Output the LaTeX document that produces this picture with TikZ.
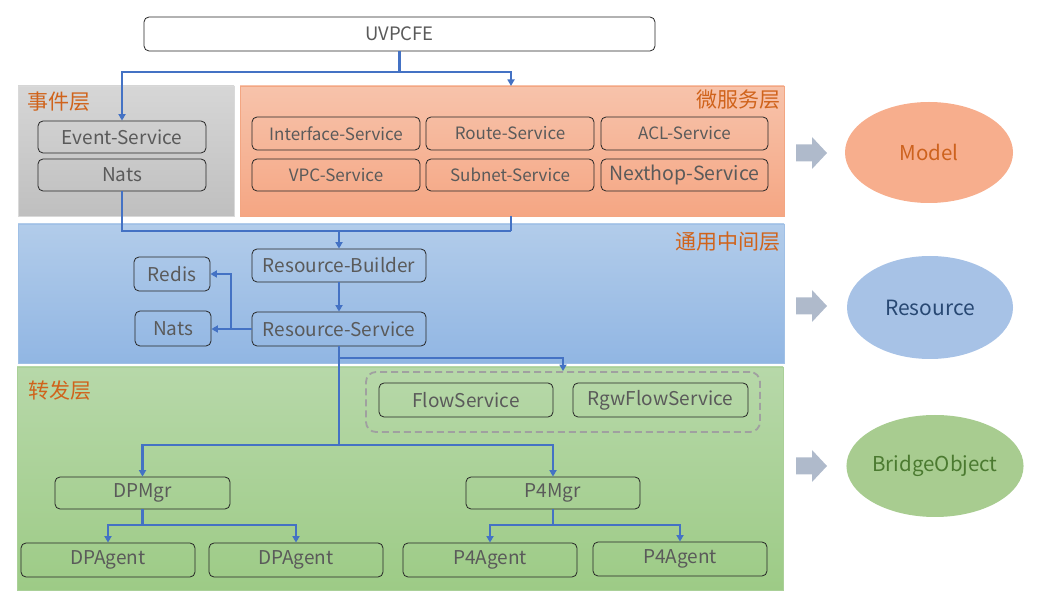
\documentclass[tikz,border=0pt]{standalone}
\usepackage{fontspec}
\setmainfont{Noto Sans CJK SC}
\usetikzlibrary{arrows.meta,shapes.geometric}
\definecolor{lineblue}{HTML}{4472C4}
\definecolor{boxtext}{HTML}{5A5A5A}
\definecolor{labelor}{HTML}{D0631B}
\definecolor{blockgray}{HTML}{AFBACB}
\definecolor{orD}{HTML}{F3A682}
\definecolor{orT}{HTML}{F7C3AB}
\definecolor{orB}{HTML}{F5A683}
\definecolor{blD}{HTML}{A0C0E6}
\definecolor{blT}{HTML}{B2CCEA}
\definecolor{blB}{HTML}{91B6E3}
\definecolor{grD}{HTML}{AAD098}
\definecolor{grT}{HTML}{B7D8A9}
\definecolor{grB}{HTML}{9DCB86}
\definecolor{grpdash}{HTML}{A0A0A0}
\definecolor{modelF}{HTML}{F7AE8D}
\definecolor{modelT}{HTML}{CD621E}
\definecolor{resF}{HTML}{A7C2E6}
\definecolor{resT}{HTML}{284873}
\definecolor{boF}{HTML}{A8CC90}
\definecolor{boT}{HTML}{4B7A30}
\begin{document}
\begin{tikzpicture}[x=1pt,y=-1pt,
  panel/.style={draw=#1, line width=0.6pt, inner sep=0, outer sep=0},
  box/.style={draw=black!85, line width=0.8pt, rounded corners=5pt, text=boxtext, inner sep=0, minimum width=174, minimum height=34, font=\fontsize{19}{21}\selectfont},
  sbox/.style={box, font=\fontsize{17}{19}\selectfont},
  lay/.style={text=labelor, inner sep=0, font=\fontsize{21}{23}\selectfont},
  line/.style={draw=lineblue, line width=2.1pt},
  arr/.style={line, -{Triangle[width=7pt,length=6.5pt]}},
  ell/.style={ellipse, inner sep=0},
]
\useasboundingbox (0,0) rectangle (1037,601);

% panels
\node[panel=black!15, top color=black!16, bottom color=black!25, minimum width=216, minimum height=130] (evtL) at (126,151) {};
\node[panel=orD, top color=orT, bottom color=orB, minimum width=544, minimum height=130] (msL) at (512,151) {};
\node[panel=blD, top color=blT, bottom color=blB, minimum width=766, minimum height=139] (midL) at (401,293.5) {};
\node[panel=grD, top color=grT, bottom color=grB, minimum width=766, minimum height=223] (fwdL) at (400,478.5) {};

% layer labels
\node[lay, anchor=west] (l1) at (27,102) {事件层};
\node[lay, anchor=east] (l2) at (781,100) {微服务层};
\node[lay, anchor=east] (l3) at (781,242) {通用中间层};
\node[lay, anchor=west] (l4) at (28,391) {转发层};

% top
\node[box, fill=white, minimum width=511, minimum height=34, font=\fontsize{18.5}{20}\selectfont] (uv) at (399.5,34) {UVPCFE};

% event layer
\node[box, minimum width=168, minimum height=32] (evt) at (122,137) {Event-Service};
\node[box, minimum width=168, minimum height=32] (nats1) at (122,175) {Nats};

% micro services
\node[sbox, minimum width=168, minimum height=33] (ifs) at (336,133.5) {Interface-Service};
\node[sbox, minimum width=168, minimum height=33] (rts) at (510,133.5) {Route-Service};
\node[sbox, minimum width=167, minimum height=33] (acl) at (684.5,133.5) {ACL-Service};
\node[sbox, minimum width=168, minimum height=32] (vpc) at (336,175) {VPC-Service};
\node[sbox, minimum width=168, minimum height=32] (sub) at (510,175) {Subnet-Service};
\node[box, minimum width=167, minimum height=32, font=\fontsize{19.5}{21}\selectfont] (nh) at (684.5,175) {Nexthop-Service};

% middle layer
\node[box, minimum width=174, minimum height=33] (rb) at (339,265.5) {Resource-Builder};
\node[box, minimum width=174, minimum height=34] (rs) at (339,329) {Resource-Service};
\node[box, minimum width=76, minimum height=34] (redis) at (172,274) {Redis};
\node[box, minimum width=76, minimum height=35] (nats2) at (173,328.5) {Nats};

% forwarding layer
\node[draw=grpdash, dash pattern=on 7pt off 4pt, line width=1.8pt, rounded corners=10pt, minimum width=394, minimum height=60, inner sep=0] (grp) at (563,402) {};
\node[box] (fs) at (466,400) {FlowService};
\node[box, minimum width=175] (rgw) at (660.5,400) {RgwFlowService};
\node[box, minimum width=175, minimum height=32] (dpm) at (142.5,493) {DPMgr};
\node[box, minimum width=174, minimum height=32] (p4m) at (553,493) {P4Mgr};
\node[box] (dpa1) at (108,560) {DPAgent};
\node[box] (dpa2) at (296,560) {DPAgent};
\node[box] (p4a1) at (490,560) {P4Agent};
\node[box] (p4a2) at (680,559) {P4Agent};

% connectors
\coordinate (j1) at (399.5,72);
\coordinate (msin) at (511,86);
\coordinate (msout) at (511,216);
\coordinate (j2) at (511,231);
\draw[arr] (uv.south) -- (j1) -| (evt.north);
\draw[arr] (j1) -| (msin);
\draw[line] (nats1.south) |- (j2);
\draw[line] (msout) -- (j2);
\draw[arr] (rb.north |- j2) -- (rb.north);
\draw[arr] (rb.south) -- (rs.north);
\draw[arr] (rs.west) -- (rs.west -| nats2.east);
\coordinate (j5) at (231,329);
\draw[arr] (j5) |- (redis.east);
\coordinate (j3) at (339,358);
\coordinate (j4) at (339,445);
\draw[arr] (rs.south) -- (j3) -| (grp.north);
\draw[line] (j3) -- (j4);
\draw[arr] (j4) -| (dpm.north);
\draw[arr] (j4) -| (p4m.north);
\coordinate (j6) at (142.5,525);
\coordinate (j7) at (553,525);
\draw[arr] (dpm.south) -- (j6) -| (dpa1.north);
\draw[arr] (j6) -| (dpa2.north);
\draw[arr] (p4m.south) -- (j7) -| (p4a1.north);
\draw[arr] (j7) -| (p4a2.north);

% block arrows
\foreach \cy in {153,306,466}{
  \fill[blockgray] (796,\cy-8.5) -- (812,\cy-8.5) -- (812,\cy-16) -- (827,\cy) -- (812,\cy+16) -- (812,\cy+8.5) -- (796,\cy+8.5) -- cycle;
}

% ellipses
\node[ell, fill=modelF, text=modelT, minimum width=168, minimum height=101, font=\fontsize{20.5}{22}\selectfont] (model) at (929,152.5) {Model};
\node[ell, fill=resF, text=resT, minimum width=166, minimum height=103, font=\fontsize{21}{23}\selectfont] (res) at (930,307.5) {Resource};
\node[ell, fill=boF, text=boT, minimum width=166, minimum height=102, font=\fontsize{20.5}{22}\selectfont] (bo) at (935,466) {BridgeObject};
\end{tikzpicture}
\end{document}
